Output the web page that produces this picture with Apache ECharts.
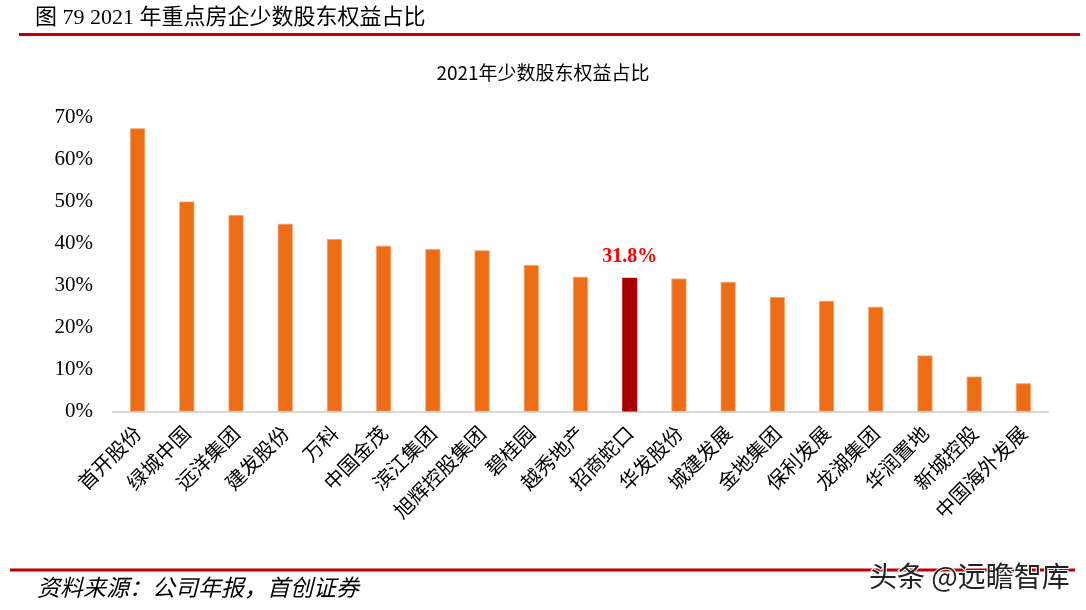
<!DOCTYPE html>
<html>
<head>
<meta charset="utf-8">
<script src="https://cdn.jsdelivr.net/npm/echarts@6/dist/echarts.min.js"></script>
<style>html,body{margin:0;padding:0;background:#fff;}#c{width:1086px;height:610px;}</style>
</head>
<body>
<div id="c"></div>
<script>
var categories = ['首开股份','绿城中国','远洋集团','建发股份','万科','中国金茂','滨江集团','旭辉控股集团','碧桂园','越秀地产','招商蛇口','华发股份','城建发展','金地集团','保利发展','龙湖集团','华润置地','新城控股','中国海外发展'];
var values = [67.3, 49.9, 46.7, 44.6, 41.0, 39.4, 38.6, 38.3, 34.8, 32.0, 31.8, 31.6, 30.8, 27.2, 26.3, 24.9, 13.3, 8.3, 6.7];
var highlightName = '招商蛇口';
var yTicks = [0, 10, 20, 30, 40, 50, 60, 70];

var serif = '"Liberation Serif", "Noto Sans CJK SC", serif';
var cjk = '"Noto Sans CJK SC", sans-serif';

var chart = echarts.init(document.getElementById('c'), null, {renderer: 'canvas'});
var barData = values.map(function (v, i) {
  if (categories[i] === highlightName) {
    return {
      value: v,
      itemStyle: {color: '#A80000', borderWidth: 0},
      label: {show: true, position: 'top', distance: 11, formatter: function (p) { return p.value.toFixed(1) + '%'; },
        color: '#FF0000', fontWeight: 'bold', fontSize: 20, fontFamily: serif}
    };
  }
  return v;
});

chart.setOption({
  animation: false,
  backgroundColor: '#fff',
  title: {
    text: '2021年少数股东权益占比',
    left: 'center',
    top: 58,
    textStyle: {fontFamily: cjk, fontSize: 19, fontWeight: 'normal', color: '#000'}
  },
  grid: {left: 113, right: 38, top: 117, bottom: 198.5},
  xAxis: {
    type: 'category',
    data: categories,
    axisLine: {lineStyle: {color: '#D9D9D9', width: 2}},
    axisTick: {show: false},
    axisLabel: {rotate: 45, interval: 0, fontSize: 20, fontFamily: cjk, color: '#000', margin: 18}
  },
  yAxis: {
    type: 'value',
    min: yTicks[0],
    max: yTicks[yTicks.length - 1],
    interval: 10,
    splitLine: {show: false},
    axisLine: {show: false},
    axisTick: {show: false},
    axisLabel: {formatter: '{value}%', fontSize: 21, fontFamily: serif, color: '#000', margin: 20}
  },
  series: [{
    type: 'bar',
    data: barData,
    barWidth: 15,
    itemStyle: {color: '#EC6D16', borderColor: '#F3A06A', borderWidth: 0.8},
    label: {show: false}
  }],
  graphic: [
    {type: 'text', left: 35, top: 7, style: {text: '图 79 2021 年重点房企少数股东权益占比', font: '22px ' + serif, fill: '#000'}},
    {type: 'line', shape: {x1: 19, y1: 34.5, x2: 1080, y2: 34.5}, style: {stroke: '#C00000', lineWidth: 3}},
    {type: 'line', shape: {x1: 10, y1: 570, x2: 1075, y2: 570}, style: {stroke: '#C00000', lineWidth: 3}},
    {type: 'text', left: 37, top: 576, style: {text: '资料来源：公司年报，首创证券', font: 'italic 23px ' + cjk, fill: '#000'}},
    {type: 'text', left: 868, top: 561, style: {text: '头条 @远瞻智库', font: '28px ' + cjk, fill: '#222', stroke: '#fff', lineWidth: 2}}
  ]
});
</script>
</body>
</html>
